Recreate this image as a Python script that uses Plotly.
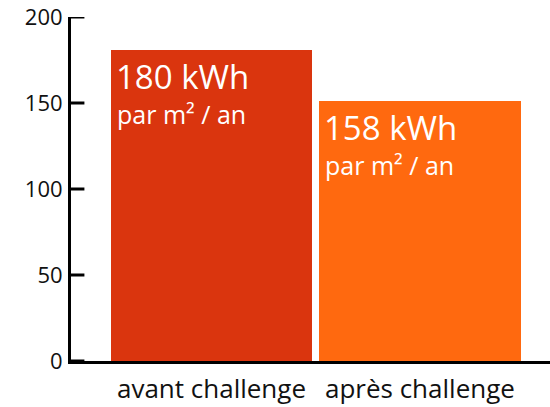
import plotly.graph_objects as go

categories = ["avant challenge", "après challenge"]
bar_values = [181, 151]
value_labels = ["180 kWh", "158 kWh"]
unit_label = "par m² / an"
bar_colors = ["#DA350E", "#FF690F"]
y_ticks = [0, 50, 100, 150, 200]

FONT = "Open Sans"
bar_width = 0.965
x_pos = list(range(len(categories)))

fig = go.Figure()
fig.add_trace(go.Bar(
    x=x_pos, y=bar_values, width=bar_width,
    marker=dict(color=bar_colors, line=dict(width=0)),
    hoverinfo="skip",
))

for i, (v, lab) in enumerate(zip(bar_values, value_labels)):
    fig.add_annotation(x=x_pos[i] - bar_width / 2, y=v, xref="x", yref="y",
                       text=lab, showarrow=False, xanchor="left", yanchor="top",
                       xshift=3, yshift=-2,
                       font=dict(family=FONT, size=33, color="white"))
    fig.add_annotation(x=x_pos[i] - bar_width / 2, y=v, xref="x", yref="y",
                       text=unit_label, showarrow=False, xanchor="left", yanchor="top",
                       xshift=4, yshift=-45,
                       font=dict(family=FONT, size=25, color="white"))

# inward tick marks on the y axis, at the tick values
for t in y_ticks:
    fig.add_shape(type="line", xref="paper", yref="y", x0=0, x1=0.028, y0=t, y1=t,
                  line=dict(color="black", width=3), layer="above")

fig.update_layout(
    width=550, height=407,
    margin=dict(l=71, r=0, t=17, b=46, autoexpand=False),
    paper_bgcolor="white", plot_bgcolor="white",
    showlegend=False,
    font=dict(family=FONT, color="#111"),
    bargap=0,
)
fig.update_xaxes(
    range=[-0.674, 1.624], tickmode="array", tickvals=x_pos, ticktext=categories,
    showline=True, linecolor="black", linewidth=3, ticks="", showgrid=False,
    zeroline=False, tickfont=dict(family=FONT, size=26, color="#111"),
    ticklabelstandoff=3, automargin=False,
)
fig.update_yaxes(
    range=[0, 200], tickmode="array", tickvals=y_ticks,
    showline=True, linecolor="black", linewidth=3, ticks="", showgrid=False,
    zeroline=False, tickfont=dict(family=FONT, size=22, color="#111"),
    ticklabelstandoff=1, automargin=False,
)

fig.write_html("out.html", config={"displayModeBar": False},
               post_script="document.body.style.margin='0';document.body.style.overflow='hidden';")
